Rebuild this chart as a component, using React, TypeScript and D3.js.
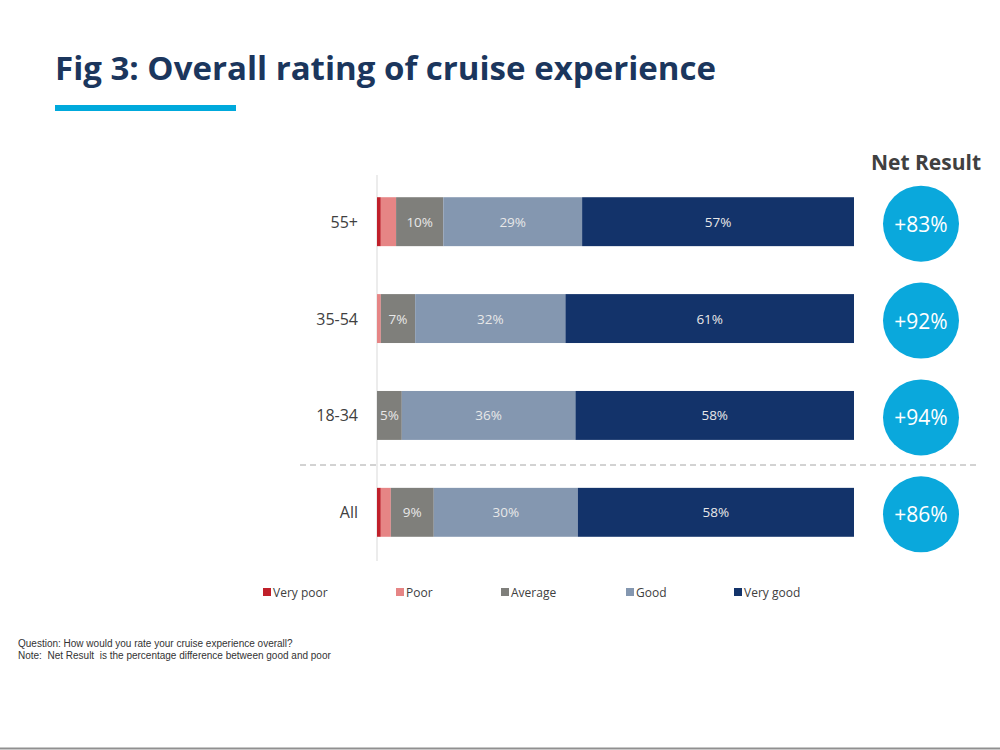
import React, { useEffect, useRef } from "react";
import * as d3 from "d3";

const categories = ["55+", "35-54", "18-34", "All"];
const ratingKeys = ["Very poor", "Poor", "Average", "Good", "Very good"];
const veryPoor = [0.8, 0, 0, 0.8];
const poor = [3.2, 0.8, 0, 2.1];
const average = [9.9, 7.2, 5.2, 9.0];
const good = [29.1, 31.5, 36.4, 30.2];
const veryGood = [57.0, 60.5, 58.4, 57.9];
const netResult = ["+83%", "+92%", "+94%", "+86%"];

const colors = ["#c0202a", "#e68585", "#7f7f7b", "#8497b0", "#13336a"];

const App: React.FC = () => {
  const svgRef = useRef<SVGSVGElement | null>(null);

  useEffect(() => {
    if (!svgRef.current) return;
    const svg = d3.select(svgRef.current);
    svg.selectAll("*").remove();

    const width = 1000;
    const height = 750;

    // rows of stacked values
    const rows = categories.map((c, i) => ({
      category: c,
      "Very poor": veryPoor[i],
      Poor: poor[i],
      Average: average[i],
      Good: good[i],
      "Very good": veryGood[i],
    }));
    const stacked = d3.stack<any>().keys(ratingKeys)(rows);

    const x = d3.scaleLinear().domain([0, 100]).range([377, 854]);
    const y = d3
      .scaleBand()
      .domain(categories)
      .range([173, 561])
      .paddingInner(0.495)
      .paddingOuter(0.25);

    // Title
    svg
      .append("text")
      .attr("x", 55)
      .attr("y", 80)
      .attr("textLength", 661)
      .attr("lengthAdjust", "spacingAndGlyphs")
      .style("font-family", "'Open Sans', sans-serif")
      .style("font-weight", "bold")
      .style("font-size", "33px")
      .style("fill", "#1b365d")
      .text("Fig 3: Overall rating of cruise experience");

    svg
      .append("rect")
      .attr("x", 55)
      .attr("y", 105)
      .attr("width", 181)
      .attr("height", 6)
      .attr("fill", "#00a9dc");

    // axis line
    svg
      .append("line")
      .attr("x1", x(0))
      .attr("x2", x(0))
      .attr("y1", 175)
      .attr("y2", 561)
      .attr("stroke", "#d9d9d9")
      .attr("stroke-width", 1);

    // bars
    const layer = svg
      .append("g")
      .selectAll("g")
      .data(stacked)
      .enter()
      .append("g")
      .attr("fill", (d, i) => colors[i]);

    layer
      .selectAll("rect")
      .data((d) => d)
      .enter()
      .append("rect")
      .attr("x", (d) => x(d[0]))
      .attr("y", (d: any) => y(d.data.category) as number)
      .attr("width", (d) => Math.max(0, x(d[1]) - x(d[0])))
      .attr("height", y.bandwidth());

    // bar labels
    layer
      .selectAll("text")
      .data((d) => d.filter((p) => p[1] - p[0] >= 4.5))
      .enter()
      .append("text")
      .attr("x", (d) => (x(d[0]) + x(d[1])) / 2)
      .attr("y", (d: any) => (y(d.data.category) as number) + y.bandwidth() / 2)
      .attr("text-anchor", "middle")
      .attr("dominant-baseline", "central")
      .style("font-family", "'Open Sans', sans-serif")
      .style("font-size", "13.5px")
      .style("fill", "#e8e8e8")
      .text((d) => `${Math.round(d[1] - d[0])}%`);

    // category labels
    svg
      .append("g")
      .selectAll("text")
      .data(categories)
      .enter()
      .append("text")
      .attr("x", 358)
      .attr("y", (d) => (y(d) as number) + y.bandwidth() / 2)
      .attr("text-anchor", "end")
      .attr("dominant-baseline", "central")
      .style("font-family", "'Open Sans', sans-serif")
      .style("font-size", "16px")
      .style("fill", "#404040")
      .text((d) => d);

    // dashed separator
    svg
      .append("line")
      .attr("x1", 300)
      .attr("x2", 980)
      .attr("y1", 465)
      .attr("y2", 465)
      .attr("stroke", "#a6a6a6")
      .attr("stroke-width", 1)
      .attr("stroke-dasharray", "6,4");

    // Net result
    svg
      .append("text")
      .attr("x", 926)
      .attr("y", 170)
      .attr("text-anchor", "middle")
      .style("font-family", "'Open Sans', sans-serif")
      .style("font-weight", "bold")
      .style("font-size", "21px")
      .style("fill", "#404040")
      .text("Net Result");

    const net = svg
      .append("g")
      .selectAll("g")
      .data(categories)
      .enter()
      .append("g")
      .attr(
        "transform",
        (d) => `translate(921,${(y(d) as number) + y.bandwidth() / 2 + 2})`
      );
    net.append("circle").attr("r", 38).attr("fill", "#0aa8dc");
    net
      .append("text")
      .attr("text-anchor", "middle")
      .attr("dominant-baseline", "central")
      .style("font-family", "'Open Sans', sans-serif")
      .style("font-size", "21px")
      .style("fill", "#ffffff")
      .text((d, i) => netResult[i]);

    // legend
    const legendX = [263, 396, 501, 626, 734];
    const legend = svg
      .append("g")
      .selectAll("g")
      .data(ratingKeys)
      .enter()
      .append("g")
      .attr("transform", (d, i) => `translate(${legendX[i]},592)`);
    legend
      .append("rect")
      .attr("x", 0)
      .attr("y", -4)
      .attr("width", 8)
      .attr("height", 8)
      .attr("fill", (d, i) => colors[i]);
    legend
      .append("text")
      .attr("x", 10)
      .attr("y", 0)
      .attr("dominant-baseline", "central")
      .style("font-family", "'Open Sans', sans-serif")
      .style("font-size", "12px")
      .style("fill", "#404040")
      .text((d) => d);

    // footnotes
    const notes = [
      "Question: How would you rate your cruise experience overall?",
      "Note:  Net Result  is the percentage difference between good and poor",
    ];
    svg
      .append("g")
      .selectAll("text")
      .data(notes)
      .enter()
      .append("text")
      .attr("x", 18)
      .attr("y", (d, i) => 647 + i * 12)
      .style("font-family", "'Liberation Sans', Arial, sans-serif")
      .style("font-size", "10px")
      .style("fill", "#333")
      .style("white-space", "pre")
      .text((d) => d);

    // bottom line
    svg
      .append("line")
      .attr("x1", 0)
      .attr("x2", width)
      .attr("y1", height - 1.5)
      .attr("y2", height - 1.5)
      .attr("stroke", "#909090")
      .attr("stroke-width", 2);
  }, []);

  return (
    <svg
      ref={svgRef}
      width={1000}
      height={750}
      style={{ position: "absolute", left: 0, top: 0, background: "#fff" }}
    />
  );
};

export default App;
